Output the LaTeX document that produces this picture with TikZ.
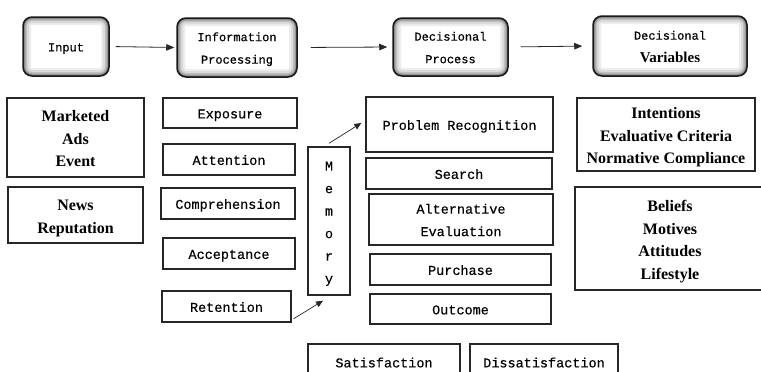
\documentclass[tikz,border=0pt]{standalone}
\usepackage{fontspec}
\setmainfont{Liberation Serif}
\setmonofont{Liberation Mono}[FakeBold=0.35]
\usetikzlibrary{arrows.meta,calc}

\begin{document}
\begin{tikzpicture}[x=1pt,y=-1pt,
  plainbox/.style={draw=black!85, line width=1.4pt, inner sep=0pt, align=center,
    text height=11.45pt, text depth=0.7pt,
    font=\fontsize{13.5}{22.5}\selectfont\ttfamily},
  boldbox/.style={plainbox, text height=14.2pt, text depth=0.6pt,
    font=\fontsize{16}{22.5}\selectfont\bfseries\rmfamily},
  topbox/.style={draw=black!90, line width=1.5pt, rounded corners=9pt, fill=white,
    inner sep=0pt, align=center, text height=10.4pt, text depth=0.6pt,
    font=\fontsize{12}{22.5}\selectfont\ttfamily,
    path picture={
      \foreach \w/\c in {16/7,12/14,8/25,5/38,2.5/58}
        \draw[line width=\w pt, black!\c, rounded corners=9pt]
          (path picture bounding box.north west) rectangle (path picture bounding box.south east);
    }},
  flow/.style={-{Triangle[length=8pt,width=6.5pt]}, line width=0.8pt, black!85},
  memarrow/.style={-{Triangle[length=7pt,width=6pt]}, line width=0.7pt, black!85}]

\useasboundingbox (0,0) rectangle (761,372);

% stage headers
\node[topbox, minimum width=86, minimum height=59] (input) at (66,46.5) {Input};
\node[topbox, minimum width=120, minimum height=59, text height=32.9pt] (info) at (237,47.5) {Information\\Processing};
\node[topbox, minimum width=115, minimum height=58, text height=32.9pt] (dproc) at (450.5,47) {Decisional\\Process};
\node[topbox, minimum width=154, minimum height=60, text height=32.9pt] (dvar) at (670,46) {Decisional\\{\rmfamily\bfseries\fontsize{15}{16}\selectfont Variables}};

\draw[flow, shorten <=6pt, shorten >=2pt] (input.east) -- (info.west);
\draw[flow, shorten <=13pt, shorten >=5pt] (info.east) -- (dproc.west);
\draw[flow, shorten <=12pt, shorten >=10pt] (dproc.east) -- (dvar.west);

% input stimuli
\node[boldbox, minimum width=137, minimum height=79, text height=59.2pt] (mkt) at (75.5,137.5) {Marketed\\Ads\\Event};
\node[boldbox, minimum width=135, minimum height=56, text height=36.7pt] (news) at (75.5,215) {News\\Reputation};

% information processing stages
\node[plainbox, minimum width=134, minimum height=30] (expo) at (230,113) {Exposure};
\node[plainbox, minimum width=132, minimum height=31] (attn) at (229,159.5) {Attention};
\node[plainbox, minimum width=134, minimum height=31] (comp) at (228,203.5) {Comprehension};
\node[plainbox, minimum width=132, minimum height=31] (accept) at (229,253.5) {Acceptance};
\node[plainbox, minimum width=129, minimum height=31] (reten) at (226.5,306.5) {Retention};

% memory column
\node[plainbox, minimum width=42, minimum height=148, text height=124.95pt] (memory) at (329,221) {M\\e\\m\\o\\r\\y};

% decision process stages
\node[plainbox, minimum width=187, minimum height=55] (probrec) at (459.5,124.5) {Problem Recognition};
\node[plainbox, minimum width=186, minimum height=31] (search) at (459,173.5) {Search};
\node[plainbox, minimum width=184, minimum height=51, text height=33.95pt] (alteval) at (461,219.5) {Alternative\\Evaluation};
\node[plainbox, minimum width=181, minimum height=31] (purch) at (460.5,269.5) {Purchase};
\node[plainbox, minimum width=181, minimum height=30] (outc) at (460.5,309) {Outcome};

% memory links
\draw[memarrow] ($(reten.south east)+(2,-4)$) -- ($(memory.south)+(-6,5)$);
\draw[memarrow] ($(memory.north)+(0,-3)$) -- ($(probrec.west)+(-4,-1.5)$);

% outcomes
\node[plainbox, minimum width=152, minimum height=36] (satis) at (384,362) {Satisfaction};
\node[plainbox, minimum width=148, minimum height=36] (dissat) at (544,362) {Dissatisfaction};

% decisional variables
\node[boldbox, minimum width=178, minimum height=73, text height=59.2pt] (intent) at (666,134.5) {Intentions\\Evaluative Criteria\\Normative Compliance};
\node[boldbox, minimum width=190, minimum height=103, text height=81.7pt] (beliefs) at (670,238.5) {Beliefs\\Motives\\Attitudes\\Lifestyle};

\end{tikzpicture}
\end{document}
